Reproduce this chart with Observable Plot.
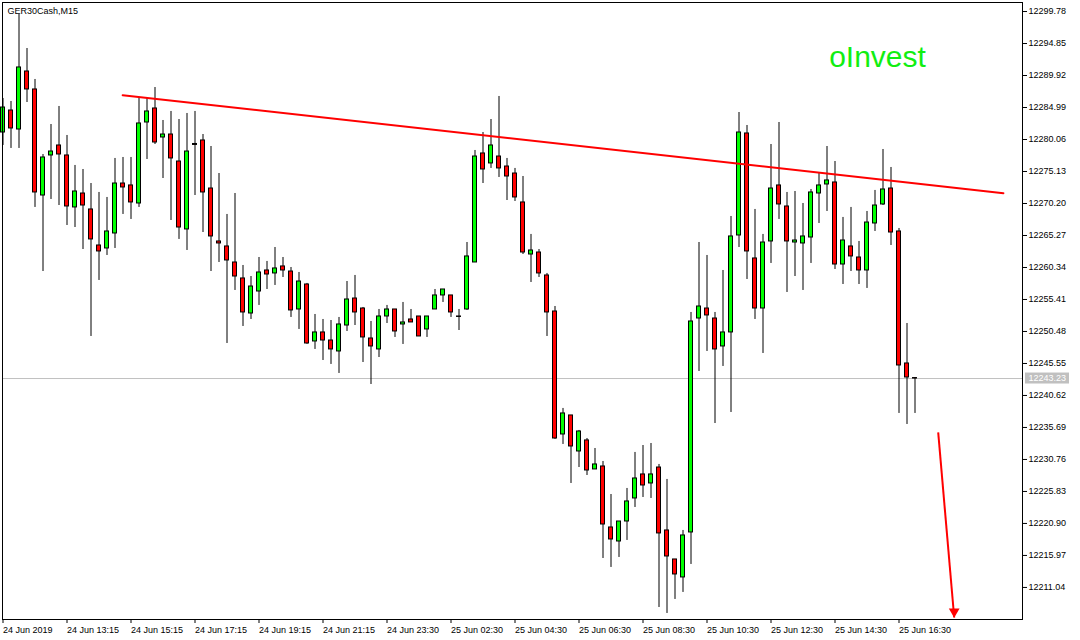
<!DOCTYPE html>
<html><head><meta charset="utf-8">
<script src="https://cdn.jsdelivr.net/npm/d3@7"></script>
<script src="https://cdn.jsdelivr.net/npm/@observablehq/plot@0.6"></script>
<style>
html,body{margin:0;padding:0;background:#fff;}
#chart{width:1080px;height:640px;}
</style></head><body><div id="chart"></div>
<script>
const symbolTitle = "GER30Cash,M15";
const watermark = "oInvest";
const opens = [12281.14,12284.53,12281.60,12290.54,12287.77,12271.43,12277.60,12279.14,12277.60,12269.59,
12271.74,12269.28,12263.73,12263.27,12265.58,12273.28,12272.98,12270.20,12282.68,12284.84,
12280.37,12280.83,12276.67,12266.20,12279.37,12279.91,12272.51,12264.35,12263.58,12261.11,
12258.65,12253.25,12256.64,12259.88,12259.42,12260.50,12259.72,12253.87,12257.72,12248.94,
12250.33,12249.09,12247.40,12251.40,12255.56,12254.02,12249.40,12247.71,12252.79,12253.87,
12251.56,12252.33,12252.79,12250.79,12253.87,12256.03,12256.03,12252.79,12253.87,12261.11,
12277.91,12276.37,12277.44,12275.90,12274.82,12270.36,12262.34,12262.65,12259.11,12253.56,
12234.61,12237.54,12231.99,12233.69,12229.22,12229.68,12220.28,12218.12,12221.20,12224.75,
12228.45,12227.06,12229.52,12219.82,12215.35,12212.58,12219.51,12252.48,12254.02,12252.48,
12248.17,12250.33,12265.27,12280.99,12261.73,12254.02,12264.35,12272.98,12269.74,12264.19,
12264.04,12264.96,12271.74,12273.13,12273.44,12260.80,12263.58,12261.88,12259.88,12267.12,
12270.05,12272.51,12265.89,12245.55,12243.30];
const highs = [12286.38,12285.92,12299.32,12294.08,12289.31,12277.75,12282.37,12285.15,12280.68,12276.06,
12275.44,12273.28,12271.90,12271.13,12277.14,12277.29,12277.29,12286.53,12286.53,12288.07,
12282.99,12284.38,12283.14,12284.07,12284.38,12280.83,12278.98,12274.82,12268.51,12271.74,
12260.65,12258.95,12261.88,12261.27,12263.42,12261.88,12260.34,12259.57,12257.88,12253.10,
12252.33,12252.17,12252.64,12258.18,12259.11,12254.18,12252.02,12253.87,12254.49,12253.87,
12254.95,12253.87,12252.79,12252.79,12256.95,12256.95,12256.03,12253.87,12264.19,12278.37,
12281.14,12283.14,12286.69,12277.14,12275.60,12274.36,12265.43,12263.11,12259.42,12254.33,
12238.62,12237.54,12235.23,12233.99,12232.45,12230.45,12225.36,12221.20,12226.29,12231.84,
12232.91,12233.22,12229.99,12227.68,12215.35,12219.82,12253.41,12264.19,12262.19,12253.41,
12259.88,12268.20,12284.22,12282.22,12269.28,12265.43,12279.29,12282.68,12271.90,12272.05,
12270.20,12272.36,12274.82,12278.98,12276.67,12268.05,12269.59,12264.35,12268.97,12272.21,
12278.52,12275.75,12266.35,12251.71,12243.39];
const lows = [12279.14,12278.68,12278.68,12285.76,12269.59,12259.72,12270.82,12269.89,12266.81,12266.50,
12263.11,12249.71,12258.34,12262.19,12263.27,12268.51,12267.74,12269.59,12276.98,12279.29,
12274.05,12267.58,12264.66,12262.96,12271.43,12265.73,12259.72,12261.11,12248.63,12256.80,
12251.25,12252.33,12254.49,12256.95,12257.57,12258.80,12252.64,12250.79,12248.50,12247.71,
12246.01,12245.40,12244.01,12250.48,12251.40,12245.70,12242.31,12246.47,12251.71,12249.56,
12248.48,12251.87,12249.71,12249.56,12253.87,12254.95,12252.64,12250.63,12253.72,12261.11,
12273.28,12275.60,12274.21,12270.66,12270.51,12262.34,12258.03,12258.80,12249.71,12233.84,
12233.07,12227.06,12229.52,12228.29,12229.22,12215.50,12214.12,12215.66,12218.28,12223.36,
12224.90,12224.75,12207.95,12207.03,12209.19,12210.27,12214.58,12244.32,12247.40,12236.30,
12245.09,12238.00,12263.42,12258.49,12252.33,12247.09,12260.96,12267.74,12256.49,12258.95,
12256.80,12260.96,12267.12,12268.97,12260.03,12257.72,12259.72,12257.72,12257.11,12265.89,
12269.89,12263.73,12237.85,12236.15,12237.85];
const closes = [12284.99,12281.76,12291.16,12287.77,12271.90,12277.29,12278.21,12277.75,12269.74,12272.05,
12269.89,12264.66,12262.81,12265.89,12273.28,12272.67,12270.36,12282.53,12284.38,12279.60,
12280.83,12277.14,12266.50,12278.21,12279.22,12271.90,12265.12,12264.04,12261.42,12258.95,
12253.41,12257.41,12259.57,12259.26,12260.19,12259.88,12253.72,12258.18,12248.63,12250.33,
12249.09,12247.71,12251.56,12255.41,12253.41,12249.56,12248.17,12252.79,12253.87,12250.48,
12251.87,12251.87,12249.71,12252.79,12256.03,12256.95,12253.41,12252.72,12262.04,12277.44,
12275.44,12279.14,12275.60,12274.36,12271.13,12262.65,12262.96,12259.42,12253.41,12233.99,
12237.85,12232.76,12235.07,12229.06,12229.99,12220.74,12218.43,12221.20,12224.29,12227.83,
12226.75,12228.45,12219.36,12215.81,12213.04,12219.05,12252.02,12254.33,12252.95,12247.71,
12250.33,12265.12,12281.14,12262.81,12254.02,12264.19,12272.51,12270.05,12264.35,12264.50,
12265.12,12271.90,12272.98,12273.75,12260.80,12264.50,12262.04,12259.88,12267.27,12269.89,
12272.36,12265.73,12245.24,12243.39,12243.23];
const xTickIndex = [0,8,16,24,32,40,48,56,64,72,80,88,96,104,112];
const xTickLabels = ["24 Jun 2019","24 Jun 13:15","24 Jun 15:15","24 Jun 17:15","24 Jun 19:15","24 Jun 21:15",
"24 Jun 23:30","25 Jun 02:30","25 Jun 04:30","25 Jun 06:30","25 Jun 08:30","25 Jun 10:30","25 Jun 12:30",
"25 Jun 14:30","25 Jun 16:30"];
const yTicks = [12211.04,12215.97,12220.90,12225.83,12230.76,12235.69,12240.62,12245.55,12250.48,12255.41,
12260.34,12265.27,12270.20,12275.13,12280.06,12284.99,12289.92,12294.85,12299.78];
const lastPrice = 12243.23;
const trendX = [14.96, 125.05];
const trendY = [12286.89, 12271.79];
const arrowX = [116.9, 118.9];
const arrowY = [12234.92, 12206.41];
const xDomain = [-0.0625, 127.4375];
const yDomain = [12206.10, 12301.17];

const bars = opens.map((o, i) => ({i, open: o, high: highs[i], low: lows[i], close: closes[i]}));
const trend = trendX.map((x, k) => ({x, y: trendY[k]}));
const arrow = [{x1: arrowX[0], y1: arrowY[0], x2: arrowX[1], y2: arrowY[1]}];
const FONT = "'Liberation Sans', Arial, sans-serif";

const chart = Plot.plot({
  width: 1080, height: 640,
  marginLeft: 2, marginRight: 58, marginTop: 2, marginBottom: 21,
  style: {fontFamily: FONT, fontSize: "9px", background: "#fff", color: "#000", overflow: "visible"},
  x: {type: "linear", domain: xDomain, axis: null},
  y: {type: "linear", domain: yDomain, axis: null},
  marks: [
    Plot.ruleY([lastPrice], {stroke: "#c0c0c0", strokeWidth: 1}),
    Plot.ruleX(bars, {x: "i", y1: "low", y2: "high", stroke: "#000", strokeWidth: 1}),
    Plot.rect(bars, {x1: d => d.i - 0.25, x2: d => d.i + 0.25, y1: "open", y2: "close",
      fill: d => d.close >= d.open ? "#00ff00" : "#ff0000", stroke: "#000", strokeWidth: 1}),
    Plot.line(trend, {x: "x", y: "y", stroke: "#ff0000", strokeWidth: 2}),
    Plot.link(arrow, {x1: "x1", y1: "y1", x2: "x2", y2: "y2", stroke: "#ff0000", strokeWidth: 2}),
    Plot.dot(arrow, {x: "x2", y: "y2", symbol: "triangle", rotate: 180, r: 4, fill: "#ff0000", dy: -6}),
    Plot.frame({stroke: "#000"}),
    Plot.axisY(yTicks, {anchor: "right", tickSize: 4, tickPadding: 2, tickFormat: d => d.toFixed(2),
      fontSize: 9, stroke: "#000", fill: "#000", label: null}),
    Plot.axisX(xTickIndex, {anchor: "bottom", tickSize: 4, tickPadding: 3,
      tickFormat: d => xTickLabels[xTickIndex.indexOf(d)], textAnchor: "start",
      fontSize: 9, stroke: "#000", fill: "#000", label: null}),
    Plot.rect([lastPrice], {x1: () => xDomain[1], x2: () => xDomain[1], y1: d => d, y2: d => d,
      insetLeft: 3, insetRight: -47, insetTop: -5.5, insetBottom: -5.5, fill: "#c0c0c0"}),
    Plot.text([lastPrice], {x: () => xDomain[1], y: d => d, dx: 6, textAnchor: "start",
      text: d => d.toFixed(2), fill: "#fff", fontSize: 9}),
    Plot.text([symbolTitle], {frameAnchor: "top-left", dx: 5, dy: 5, textAnchor: "start",
      lineAnchor: "top", fontSize: 9, fill: "#000"}),
    Plot.text([watermark], {frameAnchor: "top-right", dx: -145, dy: 55, textAnchor: "middle",
      lineAnchor: "middle", fontSize: 30, fill: "#11ee11", fontFamily: FONT})
  ]
});
document.getElementById("chart").appendChild(chart);
</script>
</body></html>
